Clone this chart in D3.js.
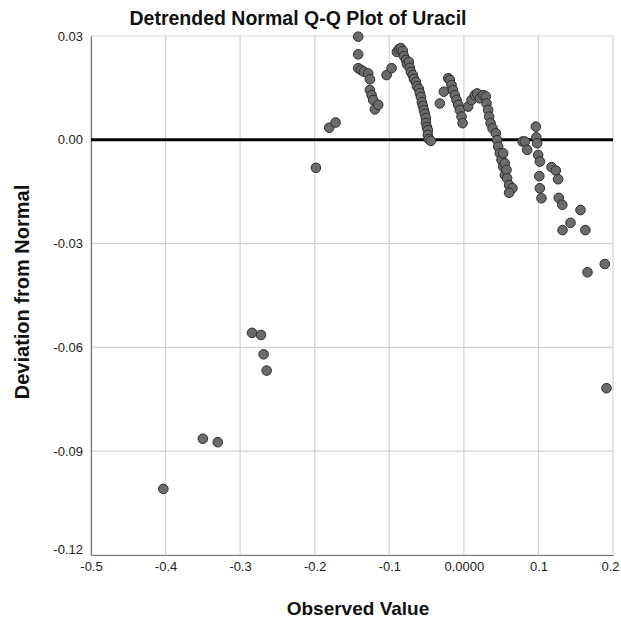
<!DOCTYPE html>
<html>
<head>
<meta charset="utf-8">
<script src="https://cdn.jsdelivr.net/npm/d3@7"></script>
<style>
  html, body { margin: 0; padding: 0; background: #fff; }
  svg { display: block; font-family: "Liberation Sans", Arial, sans-serif; }
</style>
</head>
<body>
<svg id="chart" width="621" height="623"></svg>
<script>
// ---- data ----
const observedValues = [
  -0.403, -0.350, -0.330, -0.284, -0.272, -0.2685, -0.2645,
  -0.1984, -0.1806, -0.172,
  -0.1417, -0.1417, -0.1417, -0.1381, -0.134, -0.1283, -0.126, -0.126, -0.1237, -0.1216, -0.1193, -0.1149,
  -0.1036, -0.0969,
  -0.0898, -0.0871, -0.0845, -0.0818, -0.0804, -0.0777, -0.0764, -0.0737, -0.0724, -0.0710,
  -0.0684, -0.0670, -0.0643, -0.0630, -0.0603, -0.0590, -0.0576, -0.0563, -0.0550, -0.0536,
  -0.0523, -0.0509, -0.0509, -0.0496, -0.0483, -0.0483, -0.0469, -0.0442,
  -0.0322, -0.0268,
  -0.0210, -0.0188, -0.0165, -0.0147, -0.0121, -0.0098, -0.0076, -0.0054, -0.0031, -0.0017,
  0.0058, 0.0103, 0.0147, 0.0178, 0.0214, 0.0259, 0.0295, 0.0304, 0.0326, 0.0339, 0.0358,
  0.0385, 0.0429, 0.0446, 0.0460, 0.0483, 0.0505, 0.0527, 0.0527, 0.0550, 0.0550, 0.0572,
  0.0580, 0.0607, 0.0651, 0.0607,
  0.0787, 0.0818, 0.0849,
  0.0965, 0.0972, 0.0983, 0.0996, 0.1019, 0.1012, 0.1019, 0.1041,
  0.1176, 0.1233, 0.1264, 0.1273, 0.1320, 0.1564, 0.1430, 0.1323, 0.1629,
  0.1658, 0.1890, 0.1913
];
const deviations = [
  -0.1009, -0.0864, -0.0874, -0.0558, -0.0564, -0.0620, -0.0667,
  -0.0081, 0.0035, 0.0050,
  0.0298, 0.0247, 0.0207, 0.0202, 0.0197, 0.0192, 0.0175, 0.0144, 0.0129, 0.0115, 0.0088, 0.0101,
  0.0187, 0.0207,
  0.0254, 0.0262, 0.0265, 0.0257, 0.0242, 0.0231, 0.0219, 0.0225, 0.0208, 0.0196,
  0.0187, 0.0176, 0.0167, 0.0155, 0.0147, 0.0135, 0.0124, 0.0109, 0.0098, 0.0086,
  0.0075, 0.0063, 0.0049, 0.0037, 0.0028, 0.0014, 0.0002, -0.0003,
  0.0105, 0.0139,
  0.0178, 0.0173, 0.0158, 0.0144, 0.0129, 0.0115, 0.0101, 0.0086, 0.0067, 0.0048,
  0.0096, 0.0115, 0.0129, 0.0134, 0.0120, 0.0129, 0.0125, 0.0105, 0.0086, 0.0067, 0.0048,
  0.0033, 0.0019, -0.0001, -0.0020, -0.0039, -0.0058, -0.0039, -0.0078, -0.0068, -0.0102, -0.0087,
  -0.0111, -0.0131, -0.0140, -0.0153,
  -0.0005, -0.0005, -0.0029,
  0.0038, 0.0007, -0.0010, -0.0044, -0.0063, -0.0105, -0.0140, -0.0169,
  -0.0079, -0.0089, -0.0114, -0.0168, -0.0188, -0.0203, -0.0240, -0.0261, -0.0261,
  -0.0383, -0.0359, -0.0718
];
const xTicks = [-0.5, -0.4, -0.3, -0.2, -0.1, 0.0, 0.1, 0.2];
const xTickLabels = ["-0.5", "-0.4", "-0.3", "-0.2", "-0.1", "0.0000", "0.1", "0.2"];
const yTicks = [0.03, 0.00, -0.03, -0.06, -0.09, -0.12];
const yTickLabels = ["0.03", "0.00", "-0.03", "-0.06", "-0.09", "-0.12"];
const chartTitle = "Detrended Normal Q-Q Plot of Uracil";
const xTitle = "Observed Value";
const yTitle = "Deviation from Normal";

// ---- layout ----
const svg = d3.select("#chart");
const plotL = 91, plotR = 613, plotT = 36, plotB = 555;

const x = d3.scaleLinear().domain([-0.5, 0.2]).range([plotL, plotR]);
const y = d3.scaleLinear().domain([-0.12, 0.03]).range([plotB, plotT]);

// gridlines
const grid = svg.append("g");
grid.selectAll("line.vx").data(xTicks).join("line")
  .attr("x1", d => x(d)).attr("x2", d => x(d))
  .attr("y1", plotT).attr("y2", plotB)
  .attr("stroke", "#d4d4d4").attr("stroke-width", 1.2);
grid.selectAll("line.hy").data(yTicks).join("line")
  .attr("x1", plotL).attr("x2", plotR)
  .attr("y1", d => y(d)).attr("y2", d => y(d))
  .attr("stroke", "#d4d4d4").attr("stroke-width", 1.2);

// axes
const xAxis = d3.axisBottom(x).tickValues(xTicks)
  .tickFormat((d, i) => xTickLabels[i]).tickSize(0).tickPadding(7);
const gx = svg.append("g").attr("transform", `translate(0,${plotB})`).call(xAxis);
gx.select(".domain").attr("stroke", "#777").attr("stroke-width", 1.2);
gx.selectAll("text").attr("font-size", 13).attr("fill", "#222")
  .attr("font-family", "Liberation Sans, Arial, sans-serif");
gx.selectAll(".tick").filter(d => d === 0.2).select("text").attr("dx", "-3");

const yAxis = d3.axisLeft(y).tickValues(yTicks)
  .tickFormat((d, i) => yTickLabels[i]).tickSize(0).tickPadding(8);
const gy = svg.append("g").attr("transform", `translate(${plotL},0)`).call(yAxis);
gy.select(".domain").attr("stroke", "#777").attr("stroke-width", 1.2);
gy.selectAll("text").attr("font-size", 13).attr("fill", "#222")
  .attr("font-family", "Liberation Sans, Arial, sans-serif");
gy.selectAll(".tick").filter(d => d === -0.12).select("text").attr("dy", "-0.1em");

// zero reference line
svg.append("line")
  .attr("x1", plotL).attr("x2", plotR)
  .attr("y1", y(0)).attr("y2", y(0))
  .attr("stroke", "#000").attr("stroke-width", 3);

// points
const pts = observedValues.map((v, i) => ({ x: v, y: deviations[i] }));
svg.append("g").selectAll("circle").data(pts).join("circle")
  .attr("cx", d => x(d.x)).attr("cy", d => y(d.y)).attr("r", 4.8)
  .attr("fill", "#6b6b6b").attr("stroke", "#2e2e2e").attr("stroke-width", 1);

// titles
svg.append("text").attr("x", 298).attr("y", 25).attr("text-anchor", "middle")
  .attr("font-size", 19.5).attr("font-weight", "bold").attr("fill", "#111").text(chartTitle);
svg.append("text").attr("x", 358).attr("y", 615).attr("text-anchor", "middle")
  .attr("font-size", 19).attr("font-weight", "bold").attr("fill", "#111").text(xTitle);
svg.append("text").attr("transform", `translate(29,292) rotate(-90)`)
  .attr("text-anchor", "middle")
  .attr("font-size", 20).attr("font-weight", "bold").attr("fill", "#111").text(yTitle);
</script>
</body>
</html>
